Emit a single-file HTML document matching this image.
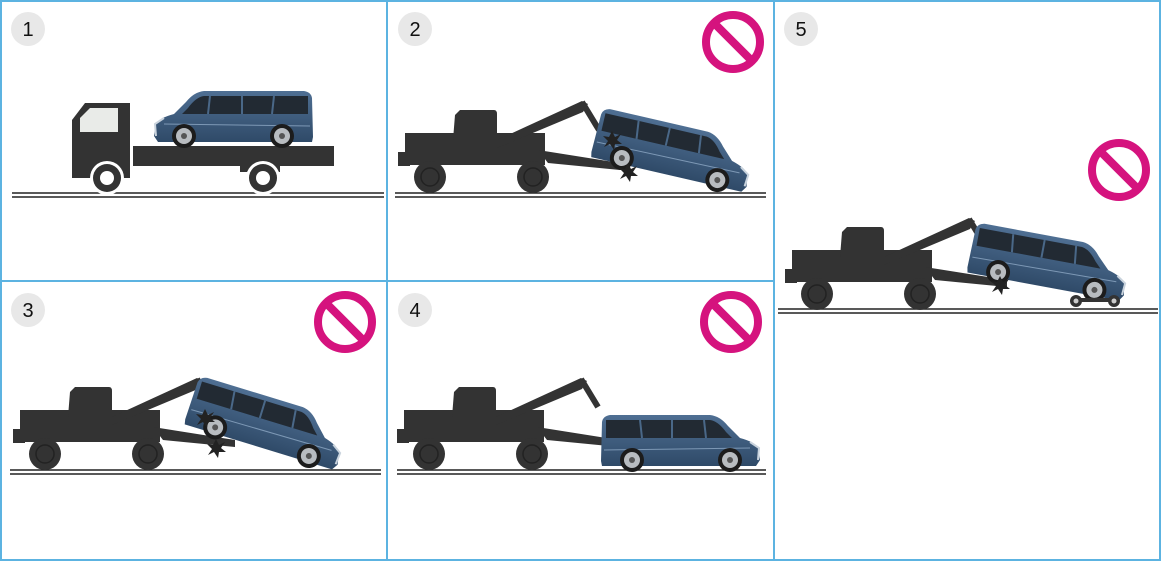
<!DOCTYPE html>
<html><head><meta charset="utf-8"><style>
html,body{margin:0;padding:0;background:#fff}
svg{display:block}
</style></head><body>
<svg width="1161" height="561" viewBox="0 0 1161 561" xmlns="http://www.w3.org/2000/svg">
<defs>
<linearGradient id="vb" x1="0" y1="0" x2="0" y2="1">
<stop offset="0" stop-color="#4f6f93"/><stop offset="1" stop-color="#2f4a68"/>
</linearGradient>
<g id="van">
<path d="M1,47 L2,8 Q3,2 10,1 L110,1 Q120,2 128,12 L140,24 Q155,28 158,34 L160,46 L156,52 L2,52 Z" fill="url(#vb)"/>
<path d="M6,6 L110,6 Q118,7 126,18 L132,24 L6,24 Z" fill="#222a33"/>
<path d="M40,6 L42,24 M72,6 L72,24 M104,6 L106,24" stroke="#4a6888" stroke-width="2"/>
<path d="M4,36 L150,34" stroke="#7d98b5" stroke-width="1"/>
<path d="M150,28 L159,34 L158,46" stroke="#c9d3dd" stroke-width="2" fill="none"/>
<circle cx="32" cy="46" r="12" fill="#1c1c1c"/><circle cx="32" cy="46" r="8" fill="#b8bcc0"/><circle cx="32" cy="46" r="3" fill="#555"/>
<circle cx="130" cy="46" r="12" fill="#1c1c1c"/><circle cx="130" cy="46" r="8" fill="#b8bcc0"/><circle cx="130" cy="46" r="3" fill="#555"/>
</g>
<g id="tow">
<rect x="7" y="133" width="140" height="32" fill="#333"/>
<rect x="0" y="152" width="12" height="14" fill="#333"/>
<path d="M55,140 L57,115 L62,110 L96,110 Q99,110 99,114 L99,140 Z" fill="#333"/>
<path d="M99,140 L99,148 L185,112 L190,104 L184,101 Z" fill="#333"/>
<path d="M184,102 L201,130" stroke="#333" stroke-width="6"/>
<path d="M140,150 L150,163 L222,170 L222,163 Z" fill="#333"/>
<circle cx="32" cy="177" r="16" fill="#333"/><circle cx="32" cy="177" r="9" fill="none" stroke="#222" stroke-width="1.5"/>
<circle cx="135" cy="177" r="16" fill="#333"/><circle cx="135" cy="177" r="9" fill="none" stroke="#222" stroke-width="1.5"/>
</g>
<g id="no">
<circle cx="0" cy="0" r="27" fill="none" stroke="#d5137e" stroke-width="8"/>
<path d="M-19,-19 L19,19" stroke="#d5137e" stroke-width="8"/>
</g>
<g id="crash">
<path d="M0,-9 L3,-3 L9,-6 L5,0 L10,4 L3,4 L2,10 L-2,4 L-8,7 L-4,1 L-9,-4 L-3,-3 Z" fill="#222"/>
</g>
</defs>

<rect x="1" y="1" width="1159" height="559" fill="none" stroke="#5cb3e1" stroke-width="2"/>
<line x1="387" y1="0" x2="387" y2="561" stroke="#5cb3e1" stroke-width="2"/>
<line x1="774" y1="0" x2="774" y2="561" stroke="#5cb3e1" stroke-width="2"/>
<line x1="0" y1="281" x2="774" y2="281" stroke="#5cb3e1" stroke-width="2"/>

<g stroke="#222" stroke-width="1.6">
<line x1="12" y1="193" x2="384" y2="193"/><line x1="12" y1="197" x2="384" y2="197"/>
<line x1="395" y1="193" x2="766" y2="193"/><line x1="395" y1="197" x2="766" y2="197"/>
<line x1="10" y1="470" x2="381" y2="470"/><line x1="10" y1="474" x2="381" y2="474"/>
<line x1="397" y1="470" x2="766" y2="470"/><line x1="397" y1="474" x2="766" y2="474"/>
<line x1="778" y1="309" x2="1158" y2="309"/><line x1="778" y1="313" x2="1158" y2="313"/>
</g>

<g font-family="Liberation Sans, sans-serif" font-size="20" text-anchor="middle" fill="#111">
<circle cx="28" cy="29" r="17" fill="#e8e8e8"/><text x="28" y="36">1</text>
<circle cx="415" cy="29" r="17" fill="#e8e8e8"/><text x="415" y="36">2</text>
<circle cx="801" cy="29" r="17" fill="#e8e8e8"/><text x="801" y="36">5</text>
<circle cx="28" cy="310" r="17" fill="#e8e8e8"/><text x="28" y="317">3</text>
<circle cx="415" cy="310" r="17" fill="#e8e8e8"/><text x="415" y="317">4</text>
</g>

<!-- panel 1 -->
<rect x="133" y="146" width="201" height="20" fill="#333"/>
<path d="M72,178 L72,120 L85,103 L130,103 L130,178 Z" fill="#333"/>
<path d="M80,132 L80,118 L90,108 L118,108 L118,132 Z" fill="#e9ebe8"/>
<rect x="240" y="162" width="40" height="10" fill="#333"/>
<circle cx="107" cy="178" r="17" fill="#fff"/><circle cx="107" cy="178" r="14" fill="#333"/><circle cx="107" cy="178" r="7" fill="#fff"/>
<circle cx="263" cy="178" r="17" fill="#fff"/><circle cx="263" cy="178" r="14" fill="#333"/><circle cx="263" cy="178" r="7" fill="#fff"/>
<use href="#van" transform="translate(314,90) scale(-1,1)"/>

<!-- panel 2 -->
<use href="#tow" transform="translate(398,0)"/>
<use href="#van" transform="translate(601,106) rotate(13)"/>
<use href="#crash" transform="translate(628,172)"/>
<use href="#crash" transform="translate(612,140)"/>
<use href="#no" transform="translate(733,42)"/>

<!-- panel 3 -->
<use href="#tow" transform="translate(13,277)"/>
<use href="#van" transform="translate(198,374) rotate(17)"/>
<use href="#crash" transform="translate(216,448)"/>
<use href="#crash" transform="translate(205,418)"/>
<use href="#no" transform="translate(345,322)"/>

<!-- panel 4 -->
<use href="#tow" transform="translate(397,277)"/>
<use href="#van" transform="translate(600,414)"/>
<use href="#no" transform="translate(731,322)"/>

<!-- panel 5 -->
<use href="#tow" transform="translate(785,117)"/>
<use href="#van" transform="translate(975,221) rotate(10.5)"/>
<use href="#crash" transform="translate(1000,285)"/>
<rect x="1073" y="298" width="45" height="4" fill="#333"/>
<circle cx="1076" cy="301" r="6" fill="#333"/><circle cx="1076" cy="301" r="2.5" fill="#ccc"/>
<circle cx="1114" cy="301" r="6" fill="#333"/><circle cx="1114" cy="301" r="2.5" fill="#ccc"/>
<use href="#no" transform="translate(1119,170)"/>
</svg>
</body></html>
